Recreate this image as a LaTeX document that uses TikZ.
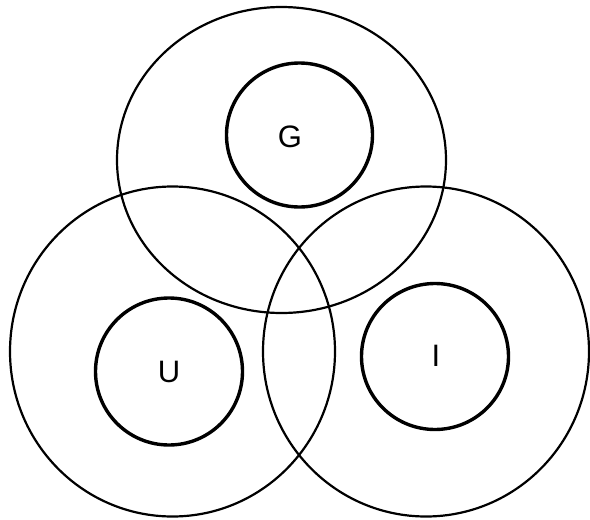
\documentclass[tikz,border=0pt]{standalone}
\usepackage{fontspec}
\setmainfont{Liberation Sans}
\begin{document}
\begin{tikzpicture}[x=1pt,y=-1pt,
  bigc/.style={draw=black,line width=2.2pt},
  smallc/.style={draw=black,line width=3.4pt},
  lbl/.style={font=\fontsize{31}{31}\selectfont,inner sep=0pt}]
\useasboundingbox (0,0) rectangle (590,520);
\fill[white] (0,0) rectangle (590,520);
\draw[bigc] (281.5,160) ellipse [x radius=164.5, y radius=153];
\draw[bigc] (172.5,351.5) ellipse [x radius=162.5, y radius=165];
\draw[bigc] (426,351.5) ellipse [x radius=163, y radius=165];
\draw[smallc] (299.5,135) ellipse [x radius=73, y radius=72];
\draw[smallc] (169,371.5) circle [radius=73.5];
\draw[smallc] (435,356.5) ellipse [x radius=73.5, y radius=73];
\node[lbl] (g) at (290,137) {G};
\node[lbl] (u) at (169,372) {U};
\node[lbl] (i) at (436,356) {I};
\end{tikzpicture}
\end{document}
